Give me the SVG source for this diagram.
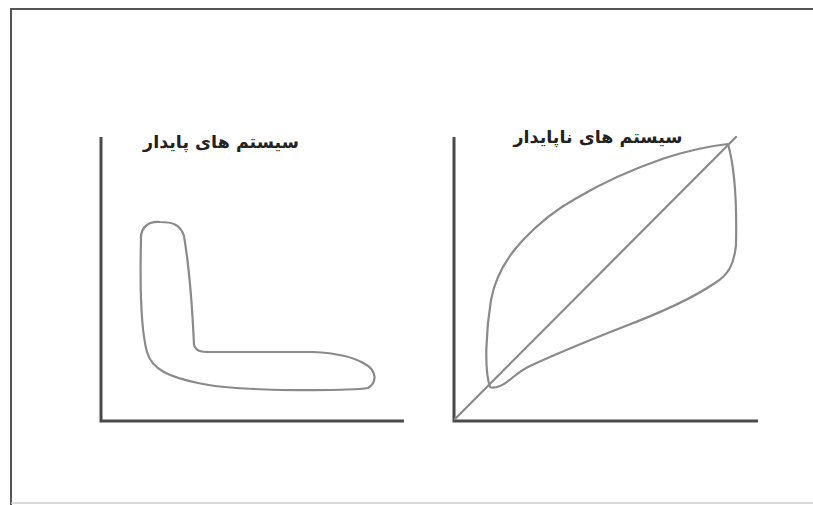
<svg xmlns="http://www.w3.org/2000/svg" width="813" height="505" viewBox="0 0 813 505">
<style>
.axis{stroke:#4a4a4a;stroke-width:3;fill:none}
.curve{stroke:#8a8a8a;stroke-width:2.2;fill:none;stroke-linejoin:round;stroke-linecap:round}
.title{font-family:"DejaVu Sans","Noto Sans",sans-serif;font-weight:bold;font-size:17.5px;fill:#222}
</style>
<rect width="813" height="505" fill="#fff"/>
<g id="frame">
<path d="M11,505 V9 H813" stroke="#555" stroke-width="2" fill="none"/>
<line x1="11" y1="503" x2="813" y2="503" stroke="#ccc" stroke-width="1.5"/>
</g>
<g id="stable">
<path class="axis" d="M101,137 V421 H404"/>
<text class="title" x="221" y="148" text-anchor="middle" direction="rtl">سیستم های پایدار</text>
<path class="curve" d="M141,240 C140,226 150,221 160,222 C172,222 180,224 184,236 C188,260 192,300 194,345 C196,351 200,352 210,352 L313,352 C335,353 352,356 365,364 C376,370 378,382 368,388 C350,391 310,390 280,390 C250,389 220,388 198,383 C170,377 152,370 147,352 C141,330 140,280 141,240 Z"/>
</g>
<g id="unstable">
<path class="axis" d="M454,137 V421 H758"/>
<text class="title" x="598" y="143" text-anchor="middle" direction="rtl">سیستم های ناپایدار</text>
<line class="curve" x1="455" y1="419" x2="736" y2="137"/>
<path class="curve" d="M490,387 C484,370 486,330 491,300 C495,278 506,258 523,240 C540,222 555,210 575,199 C600,184 630,170 665,158 C690,150 710,146 728,144 C734,165 737,200 736,245 C734,265 728,275 715,283 C690,300 660,313 623,327 C590,340 560,352 530,366 C515,373 510,382 500,386 C495,388 492,388 490,387 Z"/>
</g>
</svg>
